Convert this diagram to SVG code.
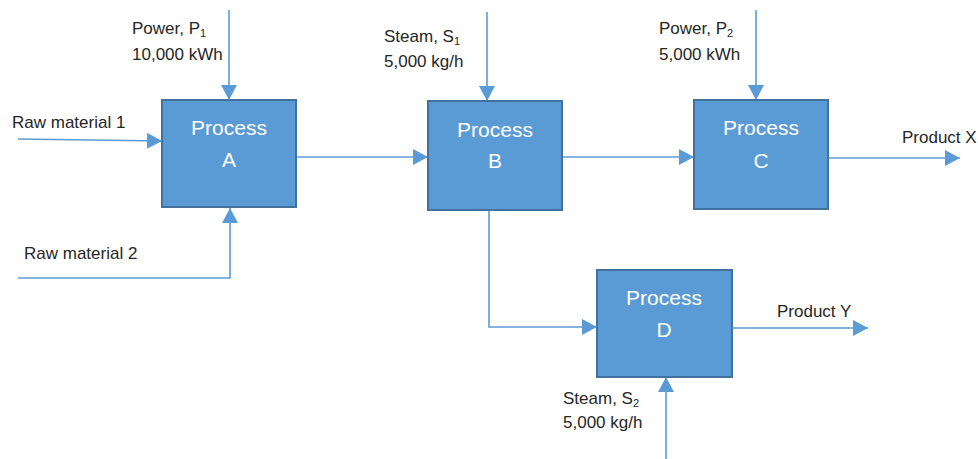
<svg xmlns="http://www.w3.org/2000/svg" width="978" height="459" viewBox="0 0 978 459">
<style>
.box{fill:#5B9BD5;stroke:#41719C;stroke-width:2}
.ln{fill:none;stroke:#5B9BD5;stroke-width:1.6}
.lbl{font-family:"Liberation Sans",Arial,sans-serif;font-size:17px;fill:#262626}
.sub{font-size:11px}
.pt{font-family:"Liberation Sans",Arial,sans-serif;font-size:21px;fill:#fff;text-anchor:middle}
</style>
<defs>
<marker id="ah" markerUnits="userSpaceOnUse" markerWidth="16" markerHeight="16" viewBox="0 0 16 16" refX="15" refY="8" orient="auto">
<path d="M0,0 L15,8 L0,16 Z" fill="#5B9BD5"/>
</marker>
</defs>
<g id="connectors">
<line class="ln" x1="229" y1="10" x2="229" y2="100" marker-end="url(#ah)"/>
<line class="ln" x1="18" y1="139" x2="162" y2="141" marker-end="url(#ah)"/>
<polyline class="ln" points="18,278 230,278 230,208" marker-end="url(#ah)"/>
<line class="ln" x1="296" y1="157" x2="428" y2="157" marker-end="url(#ah)"/>
<line class="ln" x1="487" y1="12" x2="487" y2="101" marker-end="url(#ah)"/>
<line class="ln" x1="562" y1="157" x2="694" y2="157" marker-end="url(#ah)"/>
<line class="ln" x1="756" y1="10" x2="756" y2="100" marker-end="url(#ah)"/>
<line class="ln" x1="828" y1="158" x2="960" y2="158" marker-end="url(#ah)"/>
<polyline class="ln" points="489,210 489,327 597,327" marker-end="url(#ah)"/>
<line class="ln" x1="732" y1="328" x2="868" y2="328" marker-end="url(#ah)"/>
<line class="ln" x1="666" y1="459" x2="666" y2="377" marker-end="url(#ah)"/>
</g>
<g id="processA">
<rect class="box" x="162" y="100" width="134" height="107"/>
<text class="pt" x="229" y="135">Process</text>
<text class="pt" x="229" y="167">A</text>
</g>
<g id="processB">
<rect class="box" x="428" y="101" width="134" height="109"/>
<text class="pt" x="495" y="137">Process</text>
<text class="pt" x="495" y="168">B</text>
</g>
<g id="processC">
<rect class="box" x="694" y="100" width="134" height="109"/>
<text class="pt" x="761" y="135">Process</text>
<text class="pt" x="761" y="168">C</text>
</g>
<g id="processD">
<rect class="box" x="597" y="270" width="135" height="107"/>
<text class="pt" x="664" y="305">Process</text>
<text class="pt" x="664" y="337">D</text>
</g>
<g id="labels">
<text class="lbl" x="132" y="34">Power, P<tspan class="sub" dy="3">1</tspan></text>
<text class="lbl" x="132" y="60">10,000 kWh</text>
<text class="lbl" x="12" y="128">Raw material 1</text>
<text class="lbl" x="24" y="259">Raw material 2</text>
<text class="lbl" x="384" y="42">Steam, S<tspan class="sub" dy="3">1</tspan></text>
<text class="lbl" x="384" y="67">5,000 kg/h</text>
<text class="lbl" x="659" y="34">Power, P<tspan class="sub" dy="3">2</tspan></text>
<text class="lbl" x="659" y="60">5,000 kWh</text>
<text class="lbl" x="902" y="143">Product X</text>
<text class="lbl" x="777" y="317">Product Y</text>
<text class="lbl" x="563" y="404">Steam, S<tspan class="sub" dy="3">2</tspan></text>
<text class="lbl" x="563" y="428">5,000 kg/h</text>
</g>
</svg>
